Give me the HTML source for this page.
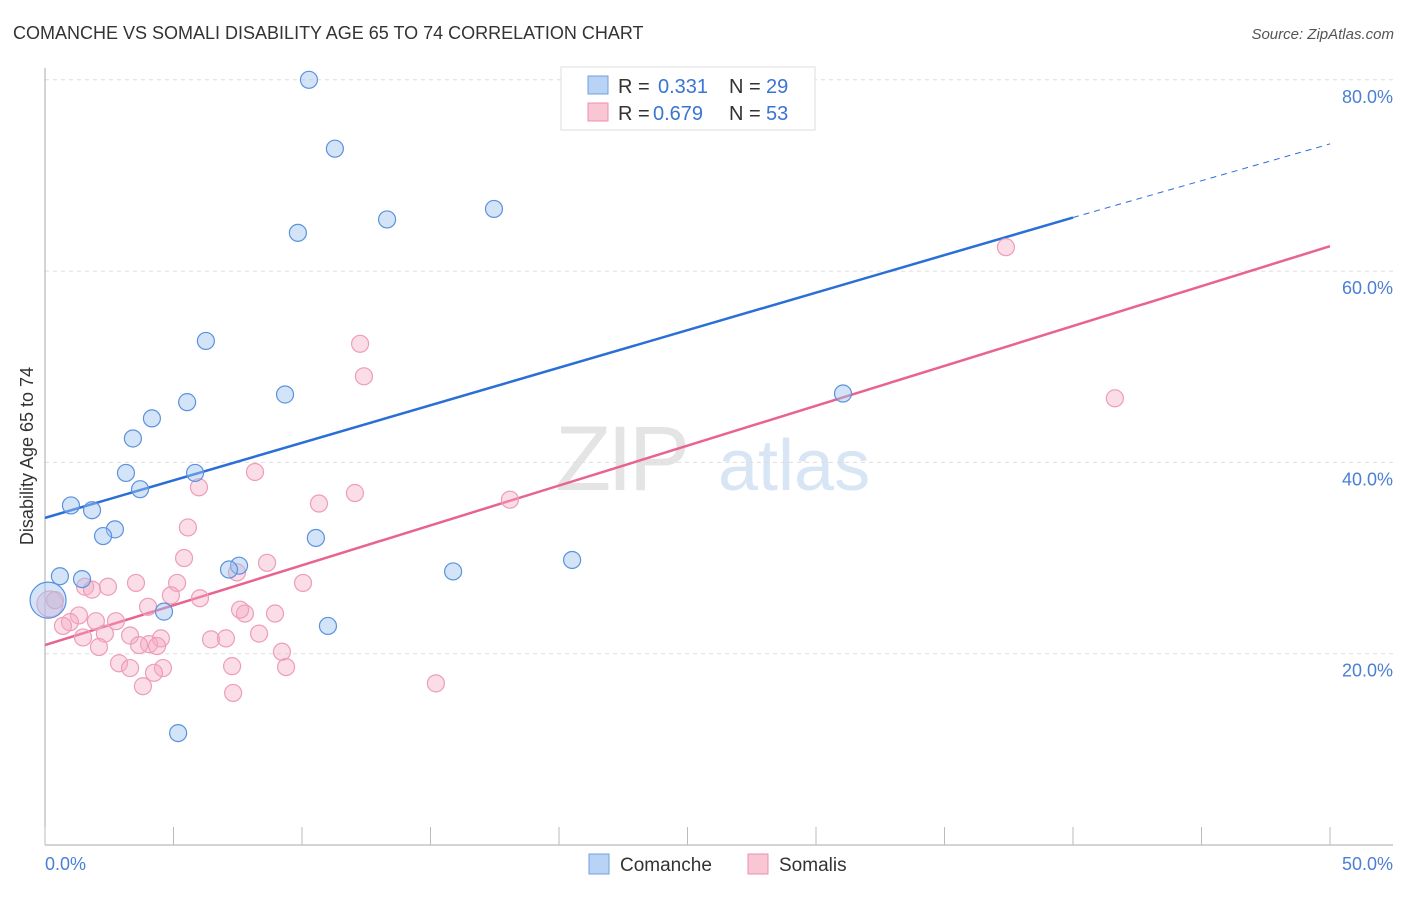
<!DOCTYPE html>
<html><head><meta charset="utf-8"><style>
body{margin:0;background:#fff;font-family:"Liberation Sans",sans-serif;}
svg text{font-family:"Liberation Sans",sans-serif;}
</style></head><body>
<svg id="chart" width="1406" height="892" xmlns="http://www.w3.org/2000/svg">
<text x="13" y="39" font-size="18" fill="#333">COMANCHE VS SOMALI DISABILITY AGE 65 TO 74 CORRELATION CHART</text>
<text x="1394" y="39" font-size="15" fill="#555" font-style="italic" text-anchor="end">Source: ZipAtlas.com</text>
<g>
<text x="555" y="490" font-size="92" fill="#e4e4e4" font-family="Liberation Serif" letter-spacing="-4">ZIP</text>
<text x="718" y="490" font-size="72" fill="#d8e5f5">atlas</text>
</g>
<g id="grid"></g>
<g id="axes"></g>
<g id="lines"></g>
<g id="pts"></g>
<g>
<rect x="561" y="67" width="254" height="63" fill="#fff" stroke="#ddd"/>
<rect x="588" y="76" width="20" height="18" fill="#b8d3f5" stroke="#6fa0e0"/>
<text x="618" y="93" font-size="20" fill="#333">R =</text><text x="658" y="93" font-size="20" fill="#3b74d4">0.331</text>
<text x="729" y="93" font-size="20" fill="#333">N =</text><text x="766" y="93" font-size="20" fill="#3b74d4">29</text>
<rect x="588" y="103" width="20" height="18" fill="#f9c6d4" stroke="#ec8fab"/>
<text x="618" y="120" font-size="20" fill="#333">R =</text><text x="653" y="120" font-size="20" fill="#3b74d4">0.679</text>
<text x="729" y="120" font-size="20" fill="#333">N =</text><text x="766" y="120" font-size="20" fill="#3b74d4">53</text>
</g>
<g>
<rect x="589" y="854" width="20" height="20" fill="#b8d3f5" stroke="#6fa0e0"/>
<text x="620" y="871" font-size="19" fill="#333">Comanche</text>
<rect x="748" y="854" width="20" height="20" fill="#f9c6d4" stroke="#ec8fab"/>
<text x="779" y="871" font-size="19" fill="#333">Somalis</text>
</g>
<text transform="translate(33,456) rotate(-90)" font-size="18" fill="#333" text-anchor="middle">Disability Age 65 to 74</text>
</svg>
<script>
const blueX=[10.27,11.28,13.31,17.47,9.84,6.26,5.53,9.34,4.16,3.42,3.15,5.84,3.70,1.01,1.83,2.72,2.26,10.54,7.55,7.16,15.88,20.51,0.58,1.44,0.12,4.63,11.01,5.18,31.05];
const blueY=[80.0,72.8,65.4,66.5,64.0,52.7,46.3,47.1,44.6,42.5,38.9,38.9,37.2,35.5,35.0,33.0,32.3,32.1,29.2,28.8,28.6,29.8,28.1,27.8,25.6,24.4,22.9,11.7,47.2];
const pinkX=[8.17,5.99,18.09,12.06,10.66,5.56,5.41,8.64,7.47,3.54,5.14,2.45,1.56,1.83,10.04,6.03,4.90,4.01,0.19,0.39,1.32,0.97,0.70,1.98,2.76,8.95,7.78,7.59,2.33,1.48,3.31,4.51,4.05,3.66,4.36,6.46,7.04,2.10,8.33,9.22,7.28,2.88,3.31,4.59,4.24,9.38,3.81,7.32,15.21,12.26,12.41,37.39,41.63];
const pinkY=[39.0,37.4,36.1,36.8,35.7,33.2,30.0,29.5,28.5,27.4,27.4,27.0,27.0,26.7,27.4,25.8,26.1,24.9,25.2,25.6,24.0,23.3,22.9,23.4,23.4,24.2,24.2,24.6,22.1,21.7,21.9,21.6,21.0,20.9,20.8,21.5,21.6,20.7,22.1,20.2,18.7,19.0,18.5,18.5,18.0,18.6,16.6,15.9,16.9,52.4,49.0,62.5,46.7];
const yTicks=[20,40,60,80];
const yTickLabels=["20.0%","40.0%","60.0%","80.0%"];
const xTickLabels=["0.0%","50.0%"];
const blueTrend=[34.2,65.6,73.3]; // at x=0, 40, 50
const pinkTrend=[20.9,62.6]; // at x=0, 50
const NS="http://www.w3.org/2000/svg";
const X=v=>45+v*25.7, Y=v=>845-v*9.565;
function mk(tag,parent,attrs){const e=document.createElementNS(NS,tag);for(const k in attrs)e.setAttribute(k,attrs[k]);document.getElementById(parent).appendChild(e);return e;}
yTicks.forEach((t,i)=>{
 const g=mk('line','grid',{x1:45,x2:1393,y1:Y(t),y2:Y(t),stroke:'#ddd','stroke-dasharray':'4,4'});
 
 
 const l=mk('text','axes',{x:1393,y:Y(t)+23,'font-size':18,fill:'#4a7fd4','text-anchor':'end'});l.textContent=yTickLabels[i];
 
 
});
const ax=mk('line','axes',{x1:45,x2:45,y1:68,y2:845,stroke:'#aaa'});


const bx=mk('line','axes',{x1:45,x2:1393,y1:845,y2:845,stroke:'#aaa'});


for(let i=0;i<=10;i++){const t=mk('line','axes',{x1:X(i*5),x2:X(i*5),y1:827,y2:845,stroke:'#bbb'});
 
 }
[0,50].forEach((v,i)=>{const t=mk('text','axes',{x:i?1393:45,y:870,'font-size':18,fill:'#4a7fd4','text-anchor':i?'end':'start'});t.textContent=xTickLabels[i];
 
 });
let e=mk('line','lines',{x1:X(0),y1:Y(blueTrend[0]),x2:X(40),y2:Y(blueTrend[1]),stroke:'#2a6fd6','stroke-width':2.5});


e=mk('line','lines',{x1:X(40),y1:Y(blueTrend[1]),x2:X(50),y2:Y(blueTrend[2]),stroke:'#2a6fd6','stroke-width':1,'stroke-dasharray':'6,5'});


e=mk('line','lines',{x1:X(0),y1:Y(pinkTrend[0]),x2:X(50),y2:Y(pinkTrend[1]),stroke:'#e8648f','stroke-width':2.5});


pinkX.forEach((v,i)=>{const c=mk('circle','pts',{cx:X(v),cy:Y(pinkY[i]),r:i==18?13:8.5,fill:'rgba(246,170,195,0.4)',stroke:'#ee9db6','stroke-width':1.2});
 
 });
blueX.forEach((v,i)=>{const c=mk('circle','pts',{cx:X(v),cy:Y(blueY[i]),r:i==24?18:8.5,fill:'rgba(160,195,240,0.45)',stroke:'#5b92de','stroke-width':1.2});
 
 });
</script>
</body></html>
